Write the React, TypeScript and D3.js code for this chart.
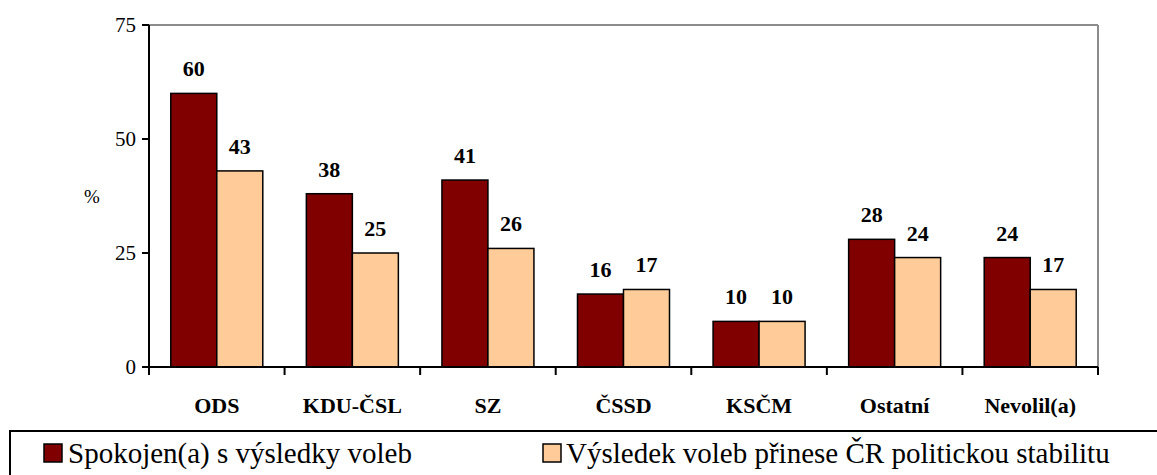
import * as d3 from "d3";

const categories = ["ODS", "KDU-ČSL", "SZ", "ČSSD", "KSČM", "Ostatní", "Nevolil(a)"];
const satisfied = [60, 38, 41, 16, 10, 28, 24];
const stability = [43, 25, 26, 17, 10, 24, 17];
const seriesNames = ["Spokojen(a) s výsledky voleb", "Výsledek voleb přinese ČR politickou stabilitu"];
const seriesColors = ["#800000", "#FFCC99"];
const yTicks = [0, 25, 50, 75];

const W = 1157;
const H = 475;
const left = 149;
const right = 1098;
const top = 25;
const bottom = 367;

const x = d3.scaleBand<string>().domain(categories).range([left, right]).padding(0);
const y = d3.scaleLinear().domain([0, 75]).range([bottom, top]);
const barW = 46;
const groupOff = (x.bandwidth() - barW * 2) / 2;

function T(props: any) {
  const { children, ...rest } = props;
  return (
    <text {...rest} style={{ fontFamily: `"Times New Roman"` }}>
      {children}
    </text>
  );
}

export default function App() {
  const series = [satisfied, stability];
  return (
    <svg width={W} height={H} style={{ position: "absolute", left: 0, top: 0 }}>
      <line x1={left} x2={right} y1={top} y2={top} stroke="#8c8c8c" strokeWidth={2} />
      <line x1={right} x2={right} y1={top} y2={bottom} stroke="#8c8c8c" strokeWidth={2} />

      {series.map((vals, si) =>
        categories.map((c, i) => {
          const bx = (x(c) ?? 0) + groupOff + si * barW;
          return (
            <g key={`${si}-${i}`}>
              <rect
                x={bx}
                y={y(vals[i])}
                width={barW}
                height={bottom - y(vals[i])}
                fill={seriesColors[si]}
                stroke="black"
                strokeWidth={1.5}
              />
              <T x={bx + barW / 2} y={y(vals[i]) - 17} textAnchor="middle" fontWeight="bold" fontSize={22}>
                {vals[i]}
              </T>
            </g>
          );
        })
      )}

      <line x1={left} x2={left} y1={top} y2={bottom} stroke="black" strokeWidth={2} />
      {yTicks.map((t) => (
        <g key={t}>
          <line x1={left - 7} x2={left} y1={y(t)} y2={y(t)} stroke="black" strokeWidth={2} />
          <T x={left - 13} y={y(t) + 7} textAnchor="end" fontSize={21}>
            {t}
          </T>
        </g>
      ))}
      <T x={92} y={203} textAnchor="middle" fontSize={19}>%</T>

      <line x1={left} x2={right} y1={bottom} y2={bottom} stroke="black" strokeWidth={2} />
      {[...categories.map((c) => x(c) ?? 0), right].map((tx, i) => (
        <line key={i} x1={tx} x2={tx} y1={bottom} y2={bottom + 8} stroke="black" strokeWidth={2} />
      ))}
      {categories.map((c) => (
        <T key={c} x={(x(c) ?? 0) + x.bandwidth() / 2} y={413} textAnchor="middle" fontWeight="bold" fontSize={22}>
          {c}
        </T>
      ))}

      <rect x={10} y={431} width={1160} height={60} fill="white" stroke="black" strokeWidth={2} />
      <rect x={44} y={444} width={18} height={18} fill={seriesColors[0]} stroke="black" strokeWidth={1.5} />
      <T x={68} y={463} fontSize={29}>{seriesNames[0]}</T>
      <rect x={543} y={444} width={18} height={18} fill={seriesColors[1]} stroke="black" strokeWidth={1.5} />
      <T x={566} y={463} fontSize={29}>{seriesNames[1]}</T>
    </svg>
  );
}
